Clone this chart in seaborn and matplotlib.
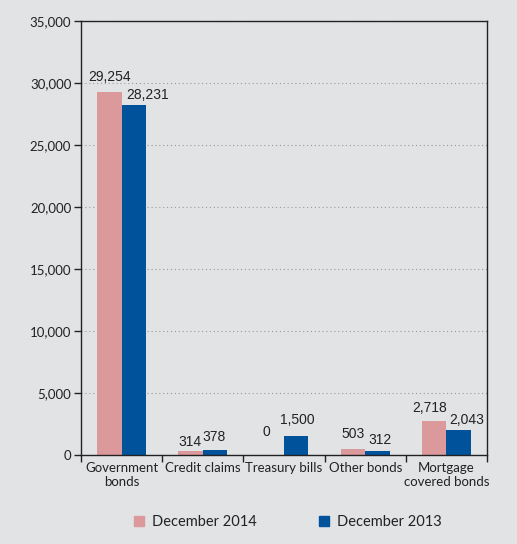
import matplotlib
matplotlib.use("Agg")
import matplotlib.pyplot as plt
import seaborn as sns
import pandas as pd
from matplotlib.ticker import FuncFormatter, FixedLocator
from matplotlib.lines import Line2D

categories = ["Government\nbonds", "Credit claims", "Treasury bills", "Other bonds", "Mortgage\ncovered bonds"]
dec_2014 = [29254, 314, 0, 503, 2718]
dec_2013 = [28231, 378, 1500, 312, 2043]
series_names = ["December 2014", "December 2013"]
colors = ["#dc999c", "#00529b"]
bg = "#e2e3e5"

# hand-placed value labels: (dx, gap above bar) in pixels, per series
label_nudges = [
    [(0, 11), (-1, 5), (-5, 19), (0, 11), (-5, 9)],
    [(14, 6), (-1, 9), (1.5, 12), (3, 7), (8, 6)],
]

df = pd.DataFrame({
    "category": categories * 2,
    "value": dec_2014 + dec_2013,
    "series": [series_names[0]] * len(categories) + [series_names[1]] * len(categories),
})

sns.set_style("white")
plt.rcParams["font.family"] = ["Lato", "DejaVu Sans"]

fig = plt.figure(figsize=(5.17, 5.44), dpi=100, facecolor=bg)
ax = fig.add_axes([0.1567, 0.1636, 0.7853, 0.7978])
ax.set_facecolor(bg)

sns.barplot(data=df, x="category", y="value", hue="series", palette=colors,
            width=0.6, ax=ax, legend=False, saturation=1, linewidth=0)

px = 72 / fig.dpi
for cont, nudges in zip(ax.containers, label_nudges):
    for bar, val, (dx, dy) in zip(cont.patches, cont.datavalues, nudges):
        ax.annotate(f"{val:,.0f}", xy=(bar.get_x() + bar.get_width() / 2, bar.get_height()),
                    xytext=(dx * px, dy * px), textcoords="offset points",
                    ha="center", va="baseline", fontsize=10,
                    family="Liberation Sans", color="#222222")

ax.set_ylim(0, 35000)
ax.set_xlim(-0.5, len(categories) - 0.5)
ax.set_yticks(range(0, 35001, 5000))
ax.yaxis.set_major_formatter(FuncFormatter(lambda v, p: f"{v:,.0f}"))
ax.grid(axis="y", linestyle=(0, (1, 2.5)), color="#9a9a9a", linewidth=0.8)
ax.set_axisbelow(True)

ax.tick_params(axis="y", direction="out", length=5, width=1, color="#222222",
               labelsize=9.5, labelcolor="#222222", left=True, pad=2)
ax.tick_params(axis="x", which="major", length=0, labelsize=9.5, labelcolor="#222222", pad=5)
ax.xaxis.set_minor_locator(FixedLocator([i - 0.5 for i in range(len(categories) + 1)]))
ax.tick_params(axis="x", which="minor", direction="out", length=5, width=1, color="#222222", bottom=True)

for s in ax.spines.values():
    s.set_visible(True)
    s.set_color("#222222")
    s.set_linewidth(1)

ax.set_xlabel("")
ax.set_ylabel("")

handles = [Line2D([], [], marker="s", linestyle="", markersize=7.5, color=c) for c in colors]
fig.legend(handles, series_names, loc="center", bbox_to_anchor=(0.556, 0.04), ncol=2,
           frameon=False, fontsize=10.5, columnspacing=4.2, handletextpad=0.5,
           handlelength=0.8, labelcolor="#222222")

fig.savefig("out.png", dpi=100, facecolor=bg)
